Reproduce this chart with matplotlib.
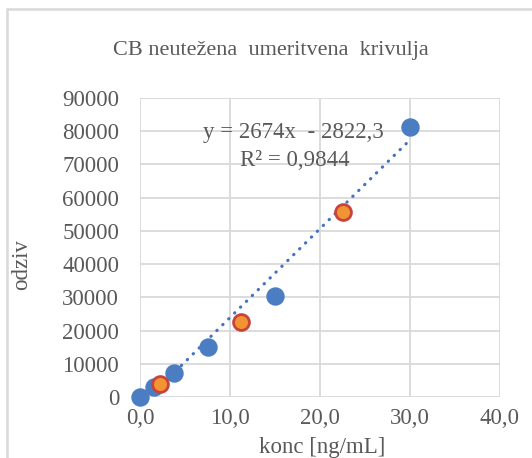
import matplotlib
matplotlib.use("Agg")
import matplotlib.pyplot as plt
from matplotlib.patches import Rectangle
import numpy as np

plt.rcParams['font.family'] = ['Liberation Serif', 'DejaVu Serif']

title = "CB neutežena  umeritvena  krivulja"
x_label = "konc [ng/mL]"
y_label = "odziv"

# calibration standards (blue)
std_conc = [0.0, 1.5, 3.75, 7.5, 15.0, 30.0]
std_resp = [0, 3000, 7200, 15000, 30500, 81300]
# control samples (orange)
qc_conc = [2.25, 11.25, 22.5]
qc_resp = [3900, 22600, 55700]

slope = 2674.0
intercept = -2822.3
r2_text = "R² = 0,9844"
eq_text = "y = 2674x  - 2822,3"

x_ticks = [0, 10, 20, 30, 40]
x_tick_labels = ["0,0", "10,0", "20,0", "30,0", "40,0"]
y_ticks = list(range(0, 90001, 10000))

W, H = 532, 458
fig = plt.figure(figsize=(W / 100, H / 100), dpi=100)
fig.patch.set_facecolor("white")

# chart border
fig.add_artist(Rectangle((7 / W, 0 - 0.1), 1.2, 1 - 9 / H + 0.1, transform=fig.transFigure,
                         fill=False, edgecolor="#D9D9D9", linewidth=1.8))

ax = fig.add_axes([140 / W, (H - 397) / H, 360 / W, 299 / H])
ax.set_xlim(0, 40)
ax.set_ylim(0, 90000)
for s in ax.spines.values():
    s.set_visible(False)
ax.set_xticks(x_ticks)
ax.set_xticklabels(x_tick_labels)
ax.set_yticks(y_ticks)
ax.set_yticklabels([str(v) for v in y_ticks])
ax.grid(True, color="#D9D9D9", linewidth=1.3)
ax.set_axisbelow(True)
ax.tick_params(length=0, labelsize=16.5, labelcolor="#595959")
ax.tick_params(axis='y', pad=15)
ax.tick_params(axis='x', pad=8)

# trendline
xt = np.linspace(0, max(std_conc), 200)
yt = slope * xt + intercept
ax.plot(xt, yt, linestyle=(0, (0.1, 2.5)), color="#4472C4", linewidth=2.3,
        dash_capstyle="round", zorder=2)

ax.scatter(std_conc, std_resp, s=150, color="#4A7DC2", edgecolor="#4A7DC2", zorder=3, clip_on=False)
ax.scatter(qc_conc, qc_resp, s=130, color="#F39433", edgecolor="#C8433B", linewidth=2, zorder=4, clip_on=False)

ax.text(0.425, 0.885, eq_text, transform=ax.transAxes, fontsize=16.5, color="#595959",
        ha="center", va="center")
ax.text(0.43, 0.79, r2_text, transform=ax.transAxes, fontsize=16.5, color="#595959",
        ha="center", va="center")

fig.text(271 / W, 1 - 50 / H, title, fontsize=16, color="#595959", ha="center", va="center")
fig.text(22 / W, 1 - 265 / H, y_label, fontsize=16.5, color="#595959", ha="center", va="center",
         rotation=90)
fig.text(322 / W, 1 - 448 / H, x_label, fontsize=16.5, color="#595959", ha="center", va="center")

fig.savefig("out.png", dpi=100, facecolor="white")
